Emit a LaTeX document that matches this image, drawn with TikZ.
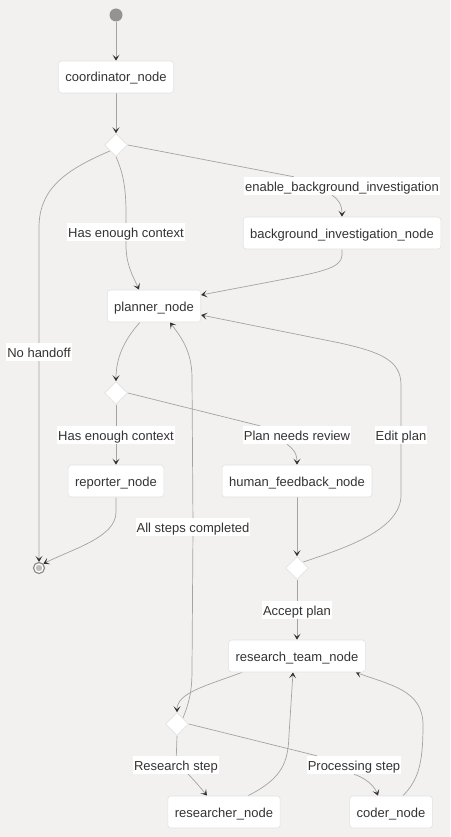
\documentclass[tikz,border=0pt]{standalone}
\usepackage{fontspec}
\setmainfont{Liberation Sans}
\usetikzlibrary{arrows.meta,shapes.geometric,calc}
\definecolor{bgc}{HTML}{F2F1EF}
\definecolor{edgec}{HTML}{A3A3A3}
\definecolor{tipc}{HTML}{333333}
\definecolor{txtc}{HTML}{333333}
\definecolor{boxc}{HTML}{E2E2E2}
\pgfdeclarelayer{bglayer}
\pgfdeclarelayer{edgelayer}
\pgfsetlayers{bglayer,edgelayer,main}
\tikzset{
  box/.style={draw=boxc, line width=0.6pt, fill=white, rounded corners=3pt, minimum height=32pt, inner xsep=7pt, text height=11pt, text depth=1pt, text=txtc, font=\fontsize{13}{15}\selectfont},
  lab/.style={fill=white, inner xsep=1pt, inner ysep=0pt, minimum height=18pt, text height=11pt, text depth=1pt, text=txtc, font=\fontsize{13}{15}\selectfont},
  dia/.style={diamond, draw=boxc, line width=0.6pt, fill=white, minimum size=23pt, inner sep=0pt},
  startdot/.style={circle, fill=edgec!90!black, minimum size=13pt, inner sep=0pt},
  endc/.style={circle, draw=edgec!85!black, line width=1.2pt, fill=white, minimum size=11pt, inner sep=0pt},
  arr/.style={draw=edgec, line width=0.7pt, -{Stealth[length=6pt,width=7pt,inset=3pt,color=tipc]}},
}
\begin{document}
\begin{tikzpicture}[x=1pt,y=-1pt]
\begin{pgfonlayer}{bglayer}
\fill[bgc] (0,0) rectangle (450,837);
\end{pgfonlayer}
\useasboundingbox (0,0) rectangle (450,837);

\node[startdot] (start) at (116,15) {};
\node[box] (coord) at (116,77) {coordinator\_node};
\node[dia] (d1) at (116,145) {};
\node[lab] (lbg) at (342,186) {enable\_background\_investigation};
\node[box] (bg) at (342,233) {background\_investigation\_node};
\node[lab] (lctx1) at (126,232) {Has enough context};
\node[box] (plan) at (154,306) {planner\_node};
\node[lab] (lnh) at (39,352) {No handoff};
\node[dia] (d2) at (116,393) {};
\node[lab] (lctx2) at (116,435) {Has enough context};
\node[lab] (lrev) at (297,435) {Plan needs review};
\node[lab] (ledit) at (401,435) {Edit plan};
\node[box] (rep) at (116,481) {reporter\_node};
\node[box] (hf) at (297,481) {human\_feedback\_node};
\node[lab] (lall) at (193,527) {All steps completed};
\node[endc] (end) at (39,568) {};
\fill[edgec!70] (end.center) circle (3.2);
\node[dia] (d3) at (297,568) {};
\node[lab] (lacc) at (297,610) {Accept plan};
\node[box] (rt) at (297,656) {research\_team\_node};
\node[dia] (d4) at (177,724) {};
\node[lab] (lrs) at (176,765) {Research step};
\node[lab] (lps) at (354,765) {Processing step};
\node[box] (res) at (224,812) {researcher\_node};
\node[box] (cod) at (391,812) {coder\_node};

\begin{pgfonlayer}{edgelayer}
\draw[arr] (start) -- (coord);
\draw[arr] (coord) -- (d1);
% No handoff
\draw[arr] (d1.south west) .. controls (60,172) and (39,192) .. (39,228) -- (lnh) -- (end);
% Has enough context 1
\draw[arr] (d1.south) .. controls (124,175) and (126,190) .. (126,215) -- (lctx1) -- (126,245) .. controls (126,265) and (133,276) .. ($(plan.north)+(-15,0)$);
% enable background investigation
\draw[edgec, line width=0.7pt] (d1.east) -- (lbg);
\draw[arr] ($(lbg.south)+(-10,0)$) .. controls (338,199) and (342,204) .. (bg.north);
% bg -> planner
\draw[arr] (bg.south) -- (342,255) .. controls (342,268) and (320,272) .. (285,279) -- ($(plan.east)+(0,-11)$);
% planner -> d2
\draw[arr] ($(plan.south)+(-14,0)$) .. controls (124,340) and (116,358) .. (d2.north);
% d2 -> reporter
\draw[arr] (d2.south) -- (lctx2) -- (rep.north);
% d2 -> human feedback
\draw[edgec, line width=0.7pt] (d2.east) -- (lrev);
\draw[arr] ($(lrev.south)+(-10,0)$) .. controls (292,448) and (297,452) .. (hf.north);
% reporter -> end
\draw[arr] (rep.south) -- (116,512) .. controls (116,537) and (75,548) .. (end.north east);
% hf -> d3
\draw[arr] (hf.south) -- (d3.north);
% Edit plan
\draw[arr] (d3.north east) .. controls (345,548) and (401,530) .. (401,495) -- (ledit) -- (401,385) .. controls (401,360) and (380,352) .. (340,343) -- ($(plan.east)+(0,9)$);
% Accept plan
\draw[arr] (d3.south) -- (lacc) -- (rt.north);
% rt -> d4
\draw[arr] ($(rt.south west)+(14,0)$) .. controls (205,686) and (177,693) .. (d4.north);
% All steps completed
\draw[arr] (d4.north east) .. controls (189,703) and (192,692) .. (192,670) -- (lall) -- (192,378) .. controls (192,350) and (180,336) .. ($(plan.south)+(16,0)$);
% Research step
\draw[edgec, line width=0.7pt] (d4.south) -- (lrs);
\draw[arr] ($(lrs.south)+(12,0)$) .. controls (194,780) and (200,787) .. ($(res.north)+(-17,0)$);
% Processing step
\draw[edgec, line width=0.7pt] (d4.east) -- (lps);
\draw[arr] (lps.south) .. controls (365,778) and (374,785) .. ($(cod.north)+(-13,0)$);
% researcher -> rt
\draw[arr] ($(res.north)+(24,0)$) .. controls (283,778) and (288,762) .. (289,735) -- ($(rt.south)+(-4,0)$);
% coder -> rt
\draw[arr] ($(cod.north)+(12,0)$) .. controls (418,780) and (423,765) .. (423,725) .. controls (423,690) and (390,685) .. ($(rt.south east)+(-10,0)$);
\end{pgfonlayer}
\end{tikzpicture}
\end{document}
